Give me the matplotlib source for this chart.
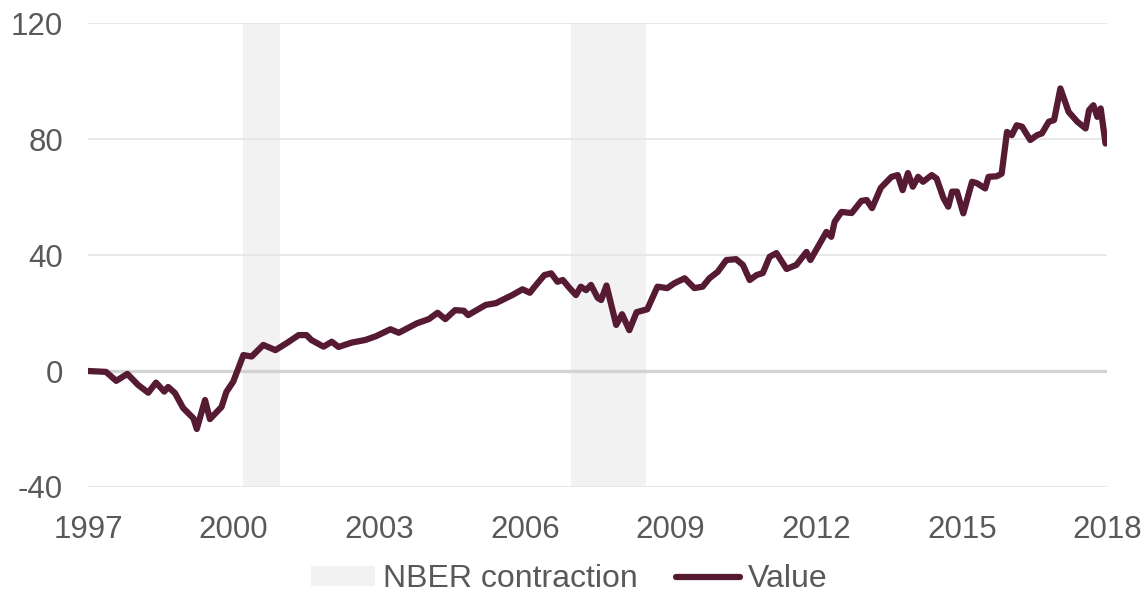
import matplotlib
matplotlib.use("Agg")
import matplotlib.pyplot as plt

# decimal-year positions and values
years = [1997.0, 1997.37, 1997.58, 1997.81, 1998.03, 1998.24, 1998.4, 1998.57, 1998.65, 1998.79,
         1998.96, 1999.17, 1999.24, 1999.41, 1999.51, 1999.75, 1999.85, 1999.99, 2000.2, 2000.37,
         2000.61, 2000.86, 2001.09, 2001.34, 2001.5, 2001.6, 2001.85, 2002.02, 2002.16, 2002.43,
         2002.71, 2002.93, 2003.23, 2003.4, 2003.78, 2004.02, 2004.2, 2004.36, 2004.56, 2004.74,
         2004.83, 2005.19, 2005.4, 2005.74, 2005.95, 2006.1, 2006.2, 2006.4, 2006.54, 2006.67,
         2006.78, 2006.92, 2007.05, 2007.15, 2007.26, 2007.36, 2007.5, 2007.57, 2007.68, 2007.88,
         2008.0, 2008.15, 2008.3, 2008.52, 2008.73, 2008.93, 2009.08, 2009.29, 2009.49, 2009.66,
         2009.8, 2009.97, 2010.15, 2010.35, 2010.49, 2010.63, 2010.77, 2010.9, 2011.04, 2011.18,
         2011.39, 2011.59, 2011.8, 2011.88, 2012.21, 2012.31, 2012.38, 2012.52, 2012.73, 2012.93,
         2013.04, 2013.15, 2013.33, 2013.55, 2013.68, 2013.78, 2013.89, 2013.99, 2014.1, 2014.2,
         2014.38, 2014.48, 2014.62, 2014.72, 2014.8, 2014.9, 2015.03, 2015.21, 2015.31, 2015.48,
         2015.55, 2015.72, 2015.82, 2015.93, 2016.03, 2016.13, 2016.24, 2016.41, 2016.55, 2016.65,
         2016.79, 2016.9, 2017.03, 2017.2, 2017.38, 2017.55, 2017.62, 2017.71, 2017.79, 2017.86,
         2017.96]
values = [0, -0.3, -3.4, -1, -4.8, -7.5, -4, -7.1, -5.5, -7.6,
          -12.8, -16.3, -20, -10, -16.6, -12.4, -7.2, -3.7, 5.5, 5,
          9, 7.2, 9.6, 12.4, 12.4, 10.7, 8.4, 10.1, 8.3, 9.8,
          10.7, 12, 14.4, 13.2, 16.5, 17.9, 20.1, 17.9, 21, 20.8,
          19.3, 22.8, 23.4, 26.2, 28.2, 27, 29.1, 33.1, 33.7, 30.8,
          31.4, 28.6, 26.2, 29.1, 27.9, 29.7, 25.2, 24.5, 29.5, 15.9,
          19.6, 14.1, 20.3, 21.3, 29.1, 28.6, 30.3, 32, 28.6, 29.1,
          32, 34.2, 38.3, 38.6, 36.6, 31.4, 33.1, 33.8, 39.4, 40.7,
          35.2, 36.6, 41.1, 38.3, 48, 46.3, 51.5, 54.9, 54.5, 58.7,
          59, 56.2, 63.2, 67, 67.6, 62.4, 68.3, 63.6, 67, 65.3,
          67.6, 66.4, 59.7, 56.7, 61.9, 61.9, 54.4, 65.3, 64.8, 63,
          67, 67.2, 68.1, 82.5, 81.4, 84.8, 84.3, 79.7, 81.4, 82,
          86, 86.6, 97.5, 89.4, 86, 83.7, 90, 91.7, 87.7, 90.6,
          78.5]

recessions = [(2000.2, 2000.95), (2006.94, 2008.5)]
x_ticks = [1997, 2000, 2003, 2006, 2009, 2012, 2015, 2018]
y_ticks = [-40, 0, 40, 80, 120]

plt.rcParams['font.family'] = ['Liberation Sans', 'DejaVu Sans']
plt.rcParams['axes.unicode_minus'] = False
text_color = '#595959'

fig = plt.figure(figsize=(11.48, 5.96), dpi=100)
ax = fig.add_axes([0.0767, 0.183, 0.888, 0.778])

for i, (start, end) in enumerate(recessions):
    ax.axvspan(start, end, color='#f2f2f2', lw=0, zorder=0,
               label="NBER contraction" if i == 0 else None)

for y in y_ticks:
    if y == 0:
        ax.axhline(y, color='#d4d4d4', lw=2.4, zorder=1)
    else:
        ax.axhline(y, color='#e6e6e6', lw=1.3, zorder=1)

ax.plot(years, values, color='#561a33', lw=4.5, solid_joinstyle='round',
        solid_capstyle='round', zorder=3, label="Value")

ax.set_xlim(1997, 2018)
ax.set_ylim(-40, 120)
ax.set_xticks(x_ticks)
ax.set_yticks(y_ticks)
ax.tick_params(length=0, labelsize=22.5, colors=text_color)
ax.tick_params(axis='y', pad=18)
ax.tick_params(axis='x', pad=20)
for s in ax.spines.values():
    s.set_visible(False)

fig.legend(loc='center', bbox_to_anchor=(0.496, 0.028), ncol=2, frameon=False,
           fontsize=23, labelcolor=text_color, handlelength=2.0, handleheight=0.6,
           columnspacing=1.2, handletextpad=0.25)

fig.savefig('out.png', dpi=100)
